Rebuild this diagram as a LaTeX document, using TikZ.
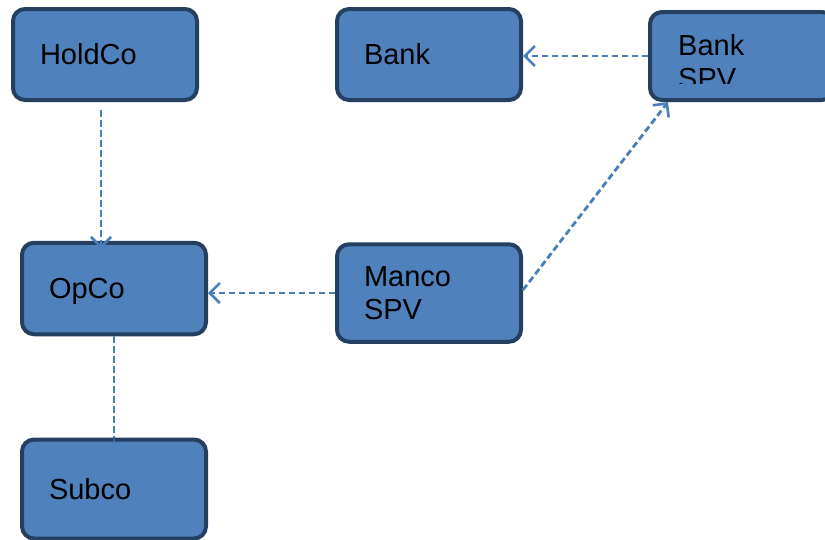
\documentclass[tikz,border=0pt]{standalone}
\usepackage{fontspec}
\setmainfont{Liberation Sans}
\usetikzlibrary{arrows.meta}
\definecolor{boxfill}{HTML}{4F81BD}
\definecolor{boxborder}{HTML}{243F60}
\definecolor{conncol}{HTML}{4A7EBB}
\tikzset{
  orgbox/.style={draw=boxborder, fill=boxfill, line width=4pt, rounded corners=12pt,
    text width=130pt, inner xsep=27pt, inner ysep=0pt, align=left, text=black,
    font=\fontsize{29}{33}\selectfont},
  conn/.style={draw=conncol, line width=2.8pt, dash pattern=on 6.5pt off 3.5pt},
  tip/.style={-{Straight Barb[length=10pt,width=20pt,line width=2.6pt]}},
  lbl/.style={inner sep=0pt, align=left, text=black, font=\fontsize{29}{33}\selectfont}
}
\begin{document}
\begin{tikzpicture}[x=1pt,y=-1pt]
\useasboundingbox (0,0) rectangle (825,539);
\clip (0,0) rectangle (825,539);
% boxes
\node[orgbox, minimum height=91pt] (holdco) at (105,54.5) {HoldCo};
\node[orgbox, minimum height=91pt] (bank) at (429,54.5) {Bank};
\node[orgbox, minimum height=88pt] (bankspv) at (742,56) {};
\begin{scope}
  \clip (650,12) rectangle (825,83);
  \node[lbl, anchor=west] (bankspvlabel) at (678,61.5) {Bank\\SPV};
\end{scope}
\node[orgbox, minimum height=91.5pt, text depth=0pt] (opco) at (114,288.5) {OpCo};
\node[orgbox, minimum height=97.5pt] (manco) at (429,293) {Manco\\SPV};
% connector OpCo - Subco (drawn before Subco box)
\draw[conn] (opco.south) -- (opco.south |- 0,438);
\node[orgbox, minimum height=99pt, text depth=0pt] (subco) at (114,489) {Subco};
\coordinate (subcoend) at ([yshift=-32pt]subco.north);
\draw[conn, opacity=0.55] (subco.north) -- (subcoend);
% arrows
\draw[conn, tip] ([shift={(-4pt,-8pt)}]holdco.south) -- ([shift={(-4pt,-8pt)}]holdco.south |- opco.north);
\draw[conn, tip] (bankspv.west) -- (bankspv.west -| bank.east);
\draw[conn, tip] (manco.west) -- (manco.west -| opco.east);
\draw[conn, tip] ([yshift=3pt]manco.east) -- ([xshift=20pt]bankspv.south west);
\end{tikzpicture}
\end{document}
